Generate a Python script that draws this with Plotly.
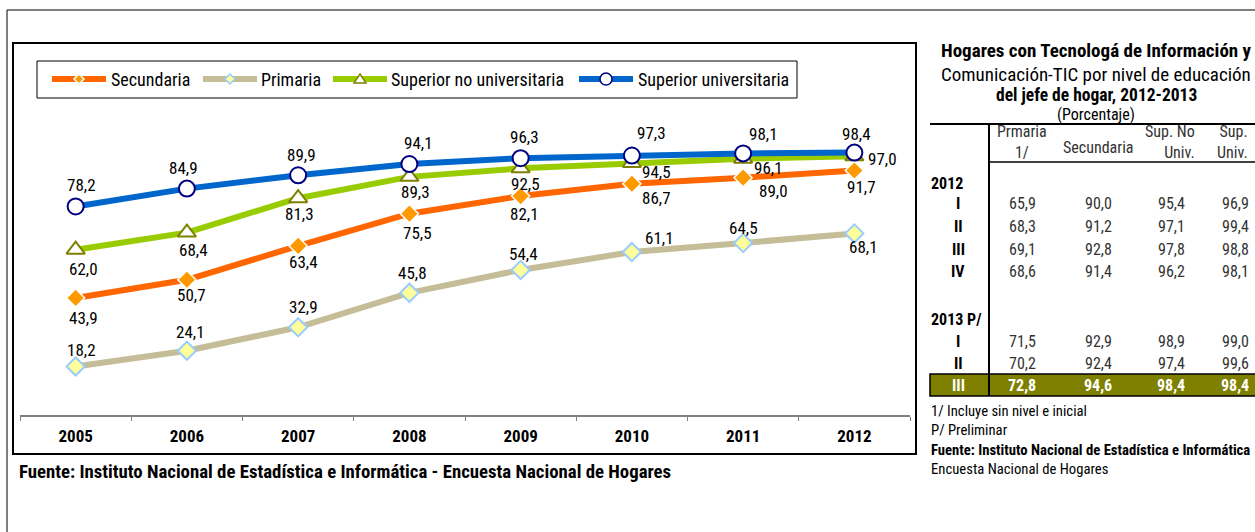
import plotly.graph_objects as go

W, H = 1255, 532
FONT = "Roboto, Open Sans, sans-serif"

# ---------------- data ----------------
years = ["2005", "2006", "2007", "2008", "2009", "2010", "2011", "2012"]
secundaria = [43.9, 50.7, 63.4, 75.5, 82.1, 86.7, 89.0, 91.7]
primaria = [18.2, 24.1, 32.9, 45.8, 54.4, 61.1, 64.5, 68.1]
sup_no_univ = [62.0, 68.4, 81.3, 89.3, 92.5, 94.5, 96.1, 97.0]
sup_univ = [78.2, 84.9, 89.9, 94.1, 96.3, 97.3, 98.1, 98.4]

table_cols = ["Prmaria<br>1/", "Secundaria", "Sup. No<br>Univ.", "Sup.<br>Univ."]
table_rows = ["I", "II", "III", "IV", "I", "II", "III"]
table_groups = ["2012", "2013 P/"]
tab_primaria = [65.9, 68.3, 69.1, 68.6, 71.5, 70.2, 72.8]
tab_secundaria = [90.0, 91.2, 92.8, 91.4, 92.9, 92.4, 94.6]
tab_sup_no = [95.4, 97.1, 97.8, 96.2, 98.9, 97.4, 98.4]
tab_sup_univ = [96.9, 99.4, 98.8, 98.1, 99.0, 99.6, 98.4]


# ---------------- helpers ----------------
def px(x):
    return x / W


def py(y):
    return 1 - y / H


def fmt(v):
    return f"{v:.1f}".replace(".", ",")


def cond(t, bold=False):
    if bold:
        t = f"<b>{t}</b>"
    return f"<span style='font-stretch:condensed'>{t}</span>"


def path(points):
    return "M " + " L ".join(f"{px(x):.5f},{py(y):.5f}" for x, y in points) + " Z"


series = [
    dict(name="Secundaria", y=secundaria, line="#FF6600",
         marker=dict(symbol="diamond", size=14, color="#FF9900", line=dict(color="white", width=1.5)),
         shifts=[(8, -20), (5, -15), (5, -16), (8, -19), (4, -18), (25, -14), (30, -13), (7, -17)],
         leg=dict(x0=52, x1=106, text_x=109, kind="diamond", r=5)),
    dict(name="Primaria", y=primaria, line="#C4BD97",
         marker=dict(symbol="diamond", size=14, color="#FFFF99", line=dict(color="#99CCFF", width=2)),
         shifts=[(6, 16), (4, 19), (5, 20), (3, 20), (3, 16), (28, 14), (0, 15), (9, -14)],
         leg=dict(x0=203, x1=257, text_x=259, kind="diamond", r=5)),
    dict(name="Superior no universitaria", y=sup_no_univ, line="#99CC00",
         marker=dict(symbol="triangle-up", size=16, color="white", line=dict(color="#808000", width=2)),
         shifts=[(8, -19), (7, -17), (1, -16), (6, -15), (5, -16), (25, -9), (25, -9), (28, -3)],
         leg=dict(x0=333, x1=387, text_x=389, kind="triangle", r=5)),
    dict(name="Superior universitaria", y=sup_univ, line="#0066CC",
         marker=dict(symbol="circle", size=16, color="white", line=dict(color="#000080", width=2)),
         shifts=[(6, 21), (-3, 21), (3, 20), (9, 21), (4, 21), (20, 23), (20, 19), (2, 19)],
         leg=dict(x0=579, x1=633, text_x=636, kind="circle", r=6)),
]

fig = go.Figure()
annotations = []
shapes = [
    # outer frame (top and left edges)
    dict(type="line", xref="paper", yref="paper", x0=px(7), x1=px(1255), y0=py(10), y1=py(10),
         line=dict(color="black", width=1)),
    dict(type="line", xref="paper", yref="paper", x0=px(7), x1=px(7), y0=py(10), y1=py(532),
         line=dict(color="black", width=1)),
    # chart frame
    dict(type="rect", xref="paper", yref="paper", x0=px(13), x1=px(916), y0=py(43), y1=py(454),
         line=dict(color="black", width=2), layer="below"),
    # legend box
    dict(type="rect", xref="paper", yref="paper", x0=px(37), x1=px(797), y0=py(61), y1=py(98),
         fillcolor="white", line=dict(color="black", width=1), layer="below"),
]

LEG_Y = 79
for s in series:
    fig.add_trace(go.Scatter(
        x=years, y=s["y"], name=s["name"], mode="lines+markers",
        line=dict(color=s["line"], width=6), marker=s["marker"],
        cliponaxis=False, hoverinfo="x+y", showlegend=False,
    ))
    for i, (v, (dx, dy)) in enumerate(zip(s["y"], s["shifts"])):
        annotations.append(dict(
            x=i, y=v, xref="x", yref="y", text=cond(fmt(v)), showarrow=False,
            xshift=dx, yshift=dy, font=dict(family=FONT, size=17, color="black"),
        ))
    # custom legend entry
    lg = s["leg"]
    shapes.append(dict(type="line", xref="paper", yref="paper", x0=px(lg["x0"]), x1=px(lg["x1"]),
                       y0=py(LEG_Y), y1=py(LEG_Y), line=dict(color=s["line"], width=6)))
    cx = (lg["x0"] + lg["x1"]) / 2
    r = lg["r"]
    mk = s["marker"]
    mline = dict(color=mk["line"]["color"], width=1.5)
    if lg["kind"] == "diamond":
        shapes.append(dict(type="path", xref="paper", yref="paper",
                           path=path([(cx, LEG_Y - r), (cx + r, LEG_Y), (cx, LEG_Y + r), (cx - r, LEG_Y)]),
                           fillcolor=mk["color"], line=mline))
    elif lg["kind"] == "triangle":
        shapes.append(dict(type="path", xref="paper", yref="paper",
                           path=path([(cx, LEG_Y - r), (cx + r + 1, LEG_Y + r - 1), (cx - r - 1, LEG_Y + r - 1)]),
                           fillcolor=mk["color"], line=mline))
    else:
        shapes.append(dict(type="circle", xref="paper", yref="paper",
                           x0=px(cx - r), x1=px(cx + r), y0=py(LEG_Y + r), y1=py(LEG_Y - r),
                           fillcolor=mk["color"], line=mline))
    annotations.append(dict(x=px(lg["text_x"]), y=py(LEG_Y), xref="paper", yref="paper",
                            text=cond(s["name"]), showarrow=False, xanchor="left", yanchor="middle",
                            font=dict(family=FONT, size=18, color="black")))

# ---------------- table (right side) ----------------
title_lines = [
    (cond("Hogares con Tecnologá de Información y", True), 50, 19),
    (cond("Comunicación-TIC por nivel de educación"), 74, 19),
    (cond("del jefe de hogar, 2012-2013", True), 95, 17.5),
    (cond("(Porcentaje)"), 114, 16),
]
for txt, y, sz in title_lines:
    annotations.append(dict(x=px(1096), y=py(y), xref="paper", yref="paper", text=txt,
                            showarrow=False, xanchor="center", yanchor="middle",
                            font=dict(family=FONT, size=sz, color="black")))

col_x = [1022, 1098, 1171, 1235]
hdr_align = [("center", 1022, 142), ("center", 1098, 147), ("right", 1197, 142), ("right", 1250, 142)]
for txt, (al, x, y) in zip(table_cols, hdr_align):
    annotations.append(dict(x=px(x), y=py(y), xref="paper", yref="paper",
                            text="<br>".join(cond(p) for p in txt.split("<br>")),
                            showarrow=False, xanchor=al, yanchor="middle", align=al,
                            font=dict(family=FONT, size=16, color="#333333")))

group_y = [183, 319]
for g, y in zip(table_groups, group_y):
    annotations.append(dict(x=px(929), y=py(y), xref="paper", yref="paper", text=cond(g, True),
                            showarrow=False, xanchor="left", yanchor="middle",
                            font=dict(family=FONT, size=16, color="black")))

row_y = [204, 226, 249, 271, 341, 363, 385]
cols = [tab_primaria, tab_secundaria, tab_sup_no, tab_sup_univ]
for r, (lab, y) in enumerate(zip(table_rows, row_y)):
    last = r == len(table_rows) - 1
    annotations.append(dict(x=px(958), y=py(y), xref="paper", yref="paper", text=cond(lab, True),
                            showarrow=False, xanchor="center", yanchor="middle",
                            font=dict(family=FONT, size=16, color="white" if last else "black")))
    for c, vals in enumerate(cols):
        annotations.append(dict(x=px(col_x[c]), y=py(y), xref="paper", yref="paper",
                                text=cond(fmt(vals[r]), last),
                                showarrow=False, xanchor="center", yanchor="middle",
                                font=dict(family=FONT, size=16, color="white" if last else "#333333")))

notes = [
    (cond("1/ Incluye sin nivel e inicial"), 411),
    (cond("P/ Preliminar"), 430),
    (cond("Fuente: Instituto Nacional de Estadística e Informática", True), 450),
    (cond("Encuesta Nacional de Hogares"), 469),
]
for txt, y in notes:
    annotations.append(dict(x=px(929), y=py(y), xref="paper", yref="paper", text=txt,
                            showarrow=False, xanchor="left", yanchor="middle",
                            font=dict(family=FONT, size=14.7, color="black")))

annotations.append(dict(x=px(17), y=py(472), xref="paper", yref="paper",
                        text=cond("Fuente: Instituto Nacional de Estadística e Informática - Encuesta Nacional de Hogares", True),
                        showarrow=False, xanchor="left", yanchor="middle",
                        font=dict(family=FONT, size=18.8, color="black")))

shapes += [
    # table highlighted row
    dict(type="rect", xref="paper", yref="paper", x0=px(930), x1=px(1256), y0=py(374), y1=py(396),
         fillcolor="#7F7F00", line=dict(color="black", width=1.5), layer="below"),
    # table lines
    dict(type="line", xref="paper", yref="paper", x0=px(930), x1=px(1255), y0=py(124), y1=py(124),
         line=dict(color="black", width=2)),
    dict(type="line", xref="paper", yref="paper", x0=px(989), x1=px(1255), y0=py(162), y1=py(162),
         line=dict(color="black", width=1.5)),
    dict(type="line", xref="paper", yref="paper", x0=px(989), x1=px(989), y0=py(124), y1=py(396),
         line=dict(color="black", width=2)),
]

fig.update_layout(
    width=W, height=H,
    margin=dict(l=0, r=0, t=0, b=0),
    paper_bgcolor="white", plot_bgcolor="rgba(0,0,0,0)",
    font=dict(family=FONT, size=17, color="black"),
    showlegend=False,
    xaxis=dict(type="category", domain=[px(20), px(910)], range=[-0.5, 7.5],
               tickmode="array", tickvals=years, ticktext=[cond(y, True) for y in years],
               showline=True, linecolor="#7F7F7F", linewidth=1.5,
               ticks="outside", tickson="boundaries", ticklen=4, tickcolor="#7F7F7F",
               ticklabelstandoff=5,
               showgrid=False, zeroline=False,
               tickfont=dict(family=FONT, size=17, color="black")),
    yaxis=dict(domain=[py(415), py(95)], range=[0, 120], visible=False),
    annotations=annotations,
    shapes=shapes,
)

fig.write_html("out.html", config={"displayModeBar": False},
               post_script="document.body.style.margin='0';")
